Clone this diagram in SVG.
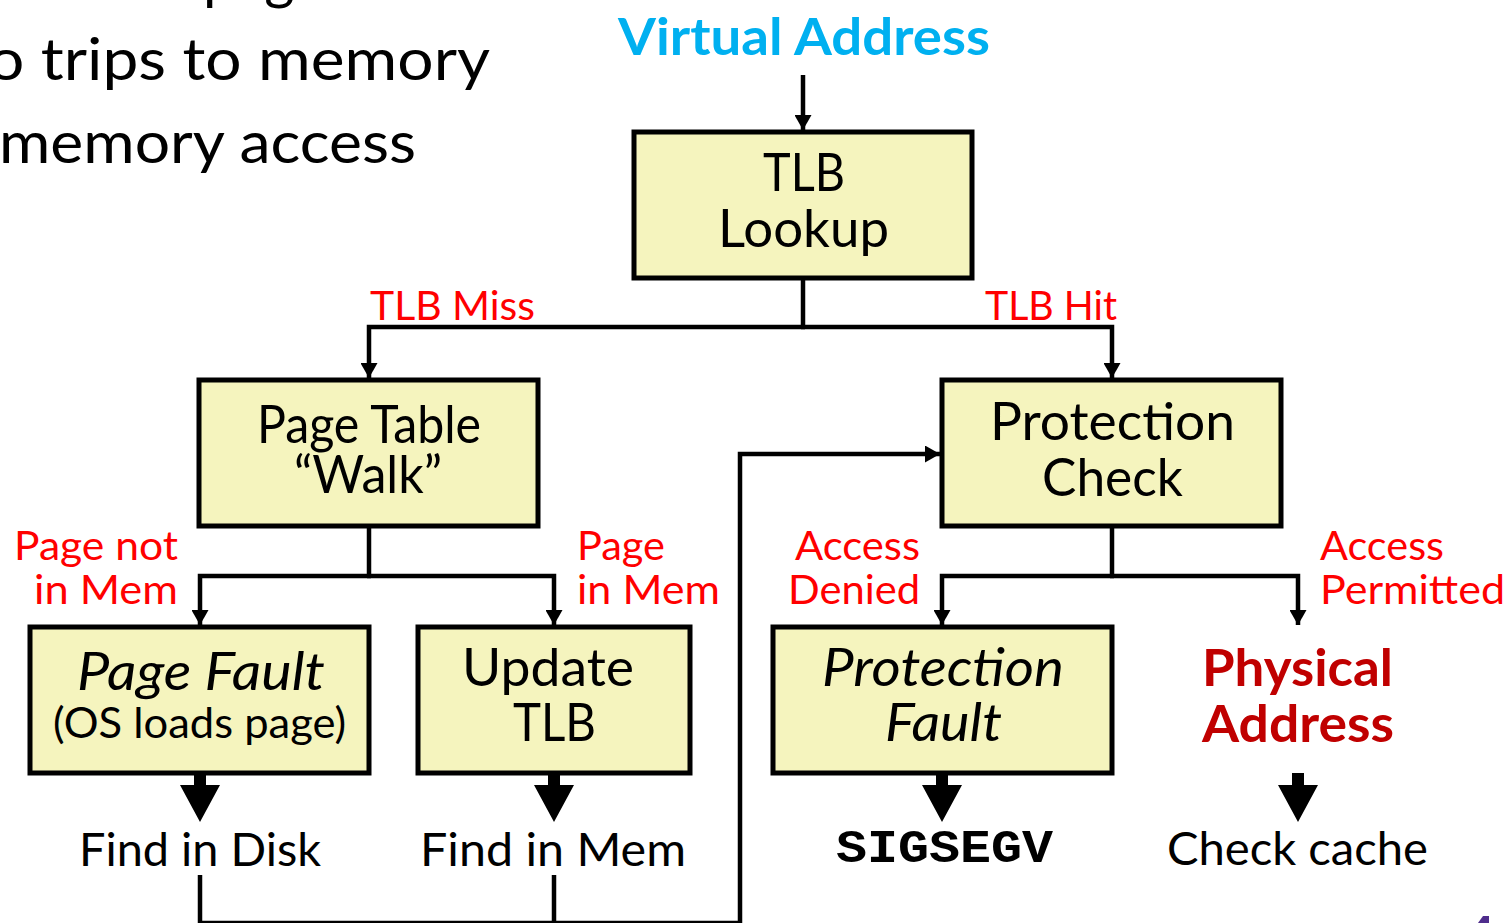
<svg xmlns="http://www.w3.org/2000/svg" width="1511" height="923" viewBox="0 0 1511 923">
  <style>
    .bg { fill: #ffffff; }
    .box { fill: #F5F4BE; stroke: #000000; stroke-width: 5; }
    .line { fill: none; stroke: #000000; stroke-width: 4.5; stroke-linejoin: miter; stroke-linecap: butt; }
    .t { font-family: Lato, "Open Sans", "Liberation Sans", sans-serif; fill: #000000; }
    .body { font-size: 58px; }
    .node { font-size: 52px; }
    .node-i { font-size: 53px; font-style: italic; }
    .small { font-size: 42px; }
    .label { font-size: 41px; fill: #FF0000; }
    .result { font-size: 47px; }
    .va { font-size: 52px; font-weight: bold; fill: #00B0F0; }
    .pa { font-size: 52px; font-weight: bold; fill: #C00000; }
    .mono { font-family: "Liberation Mono", "DejaVu Sans Mono", monospace; font-size: 47px; font-weight: bold; fill: #000000; }
  </style>
  <defs>
    <marker id="head" markerUnits="userSpaceOnUse" markerWidth="15" markerHeight="17" refX="15" refY="8.5" orient="auto">
      <path d="M0,0 L15,8.5 L0,17 Z" fill="#000000"/>
    </marker>
    <!-- thick block arrow, origin at the top centre of its shaft -->
    <path id="block" d="M-6,0 H6 V12 H20 L0,49 L-20,12 H-6 Z" fill="#000000"/>
  </defs>

  <rect class="bg" x="0" y="0" width="1511" height="923"/>

  <!-- slide body text, partly cut off at the left and top -->
  <g id="body-text">
    <text class="t body" x="203" y="-2">page</text>
    <text class="t body" x="-12" y="80" textLength="502" lengthAdjust="spacingAndGlyphs">o trips to memory</text>
    <text class="t body" x="-1" y="163" textLength="417" lengthAdjust="spacingAndGlyphs">memory access</text>
  </g>

  <g id="virtual-address">
    <text class="t va" x="618" y="55" textLength="372" lengthAdjust="spacingAndGlyphs">Virtual Address</text>
  </g>

  <!-- connectors -->
  <g id="connectors">
    <path class="line" d="M803,75 V130" marker-end="url(#head)"/>

    <path class="line" d="M803,280 V327"/>
    <path class="line" d="M805,327 H369 V378" marker-end="url(#head)"/>
    <path class="line" d="M801,327 H1112 V378" marker-end="url(#head)"/>

    <path class="line" d="M369,528 V576"/>
    <path class="line" d="M371,576 H200 V625" marker-end="url(#head)"/>
    <path class="line" d="M367,576 H554 V625" marker-end="url(#head)"/>

    <path class="line" d="M1112,528 V576"/>
    <path class="line" d="M1114,576 H942 V625" marker-end="url(#head)"/>
    <path class="line" d="M1110,576 H1298 V625" marker-end="url(#head)"/>

    <!-- return path from the page-table results back to the protection check -->
    <path class="line" d="M200,875 V923"/>
    <path class="line" d="M554,875 V923"/>
    <path class="line" d="M198,923 H740 V454 H940" marker-end="url(#head)"/>

    <use href="#block" x="200" y="773"/>
    <use href="#block" x="554" y="773"/>
    <use href="#block" x="942" y="773"/>
    <use href="#block" x="1298" y="773"/>
  </g>

  <g id="tlb-lookup">
    <rect class="box" x="634" y="132" width="338" height="146"/>
    <text class="t node" x="763" y="191" textLength="82" lengthAdjust="spacingAndGlyphs">TLB</text>
    <text class="t node" x="718" y="247" textLength="171" lengthAdjust="spacingAndGlyphs">Lookup</text>
  </g>

  <g id="label-tlb-miss">
    <text class="t label" x="370" y="320" textLength="165" lengthAdjust="spacingAndGlyphs">TLB Miss</text>
  </g>
  <g id="label-tlb-hit">
    <text class="t label" x="985" y="320" textLength="132" lengthAdjust="spacingAndGlyphs">TLB Hit</text>
  </g>

  <g id="page-table-walk">
    <rect class="box" x="199" y="380" width="339" height="146"/>
    <text class="t node" x="257" y="443" textLength="224" lengthAdjust="spacingAndGlyphs">Page Table</text>
    <text class="t node" x="294" y="493" textLength="148" lengthAdjust="spacingAndGlyphs">“Walk”</text>
  </g>

  <g id="protection-check">
    <rect class="box" x="942" y="380" width="339" height="146"/>
    <text class="t node" x="990" y="440" textLength="245" lengthAdjust="spacingAndGlyphs">Protection</text>
    <text class="t node" x="1042" y="496" textLength="141" lengthAdjust="spacingAndGlyphs">Check</text>
  </g>

  <g id="label-page-not-in-mem">
    <text class="t label" x="14" y="560" textLength="164" lengthAdjust="spacingAndGlyphs">Page not</text>
    <text class="t label" x="34" y="604" textLength="144" lengthAdjust="spacingAndGlyphs">in Mem</text>
  </g>
  <g id="label-page-in-mem">
    <text class="t label" x="577" y="560" textLength="88" lengthAdjust="spacingAndGlyphs">Page</text>
    <text class="t label" x="577" y="604" textLength="143" lengthAdjust="spacingAndGlyphs">in Mem</text>
  </g>
  <g id="label-access-denied">
    <text class="t label" x="795" y="560" textLength="125" lengthAdjust="spacingAndGlyphs">Access</text>
    <text class="t label" x="788" y="604" textLength="132" lengthAdjust="spacingAndGlyphs">Denied</text>
  </g>
  <g id="label-access-permitted">
    <text class="t label" x="1320" y="560" textLength="124" lengthAdjust="spacingAndGlyphs">Access</text>
    <text class="t label" x="1320" y="604" textLength="185" lengthAdjust="spacingAndGlyphs">Permitted</text>
  </g>

  <g id="page-fault">
    <rect class="box" x="30" y="627" width="339" height="146"/>
    <text class="t node-i" x="77" y="690" textLength="248" lengthAdjust="spacingAndGlyphs">Page Fault</text>
    <text class="t small" x="53" y="738" textLength="293" lengthAdjust="spacingAndGlyphs">(OS loads page)</text>
  </g>

  <g id="update-tlb">
    <rect class="box" x="418" y="627" width="272" height="146"/>
    <text class="t node" x="462" y="686" textLength="172" lengthAdjust="spacingAndGlyphs">Update</text>
    <text class="t node" x="513" y="741" textLength="83" lengthAdjust="spacingAndGlyphs">TLB</text>
  </g>

  <g id="protection-fault">
    <rect class="box" x="773" y="627" width="339" height="146"/>
    <text class="t node-i" x="822" y="686" textLength="242" lengthAdjust="spacingAndGlyphs">Protection</text>
    <text class="t node-i" x="885" y="741" textLength="117" lengthAdjust="spacingAndGlyphs">Fault</text>
  </g>

  <g id="physical-address">
    <text class="t pa" x="1202" y="686" textLength="191" lengthAdjust="spacingAndGlyphs">Physical</text>
    <text class="t pa" x="1202" y="742" textLength="192" lengthAdjust="spacingAndGlyphs">Address</text>
  </g>

  <g id="find-in-disk">
    <text class="t result" x="79" y="866" textLength="242" lengthAdjust="spacingAndGlyphs">Find in Disk</text>
  </g>
  <g id="find-in-mem">
    <text class="t result" x="420" y="866" textLength="266" lengthAdjust="spacingAndGlyphs">Find in Mem</text>
  </g>
  <g id="sigsegv">
    <text class="mono" x="836" y="862" textLength="217" lengthAdjust="spacingAndGlyphs">SIGSEGV</text>
  </g>
  <g id="check-cache">
    <text class="t result" x="1167" y="865" textLength="261" lengthAdjust="spacingAndGlyphs">Check cache</text>
  </g>

  <!-- corner of a purple mark at the lower right edge -->
  <path d="M1478,923 L1483,916 L1489,916 L1489,923 Z" fill="#4F2D8C"/>
</svg>
